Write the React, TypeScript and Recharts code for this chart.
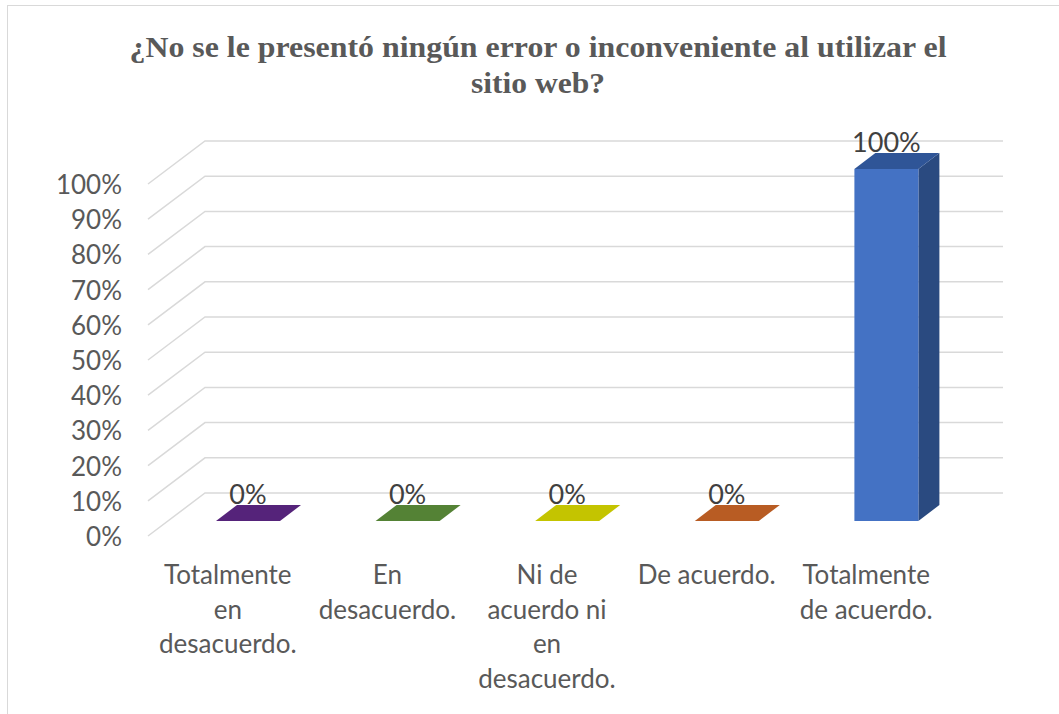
import React from 'react';
import { BarChart, Bar, XAxis, YAxis, CartesianGrid, LabelList } from 'recharts';

const categories: string[] = [
  'Totalmente en desacuerdo.',
  'En desacuerdo.',
  'Ni de acuerdo ni en desacuerdo.',
  'De acuerdo.',
  'Totalmente de acuerdo.',
];
const categoryLines: string[][] = [
  ['Totalmente', 'en', 'desacuerdo.'],
  ['En', 'desacuerdo.'],
  ['Ni de', 'acuerdo ni', 'en', 'desacuerdo.'],
  ['De acuerdo.'],
  ['Totalmente', 'de acuerdo.'],
];
const values: number[] = [0, 0, 0, 0, 1];
const yTicks: number[] = [0, 0.1, 0.2, 0.3, 0.4, 0.5, 0.6, 0.7, 0.8, 0.9, 1];
const titleLines: string[] = [
  '¿No se le presentó ningún error o inconveniente al utilizar el',
  'sitio web?',
];
const titleWidths: number[] = [817, 134];

const frontColors = ['#7030A0', '#70AD47', '#FFFF00', '#ED7D31', '#4472C4'];
const topColors = ['#55237A', '#548235', '#C4C400', '#B85C23', '#2F5597'];
const sideColors = ['#4A1E6B', '#4A722E', '#A8A800', '#A0501E', '#2A4A80'];

const data = categories.map((c, i) => ({ name: c, value: values[i], idx: i }));

const DX = 21;
const DY = -16;
const FONT = 'Lato, "Noto Sans", sans-serif';

const Bar3D = (props: any) => {
  const { x, y, width, height, payload } = props;
  const i = payload.idx;
  const h = Math.max(0, height || 0);
  const top = `M${x},${y} L${x + width},${y} L${x + width + DX},${y + DY} L${x + DX},${y + DY} Z`;
  const side = `M${x + width},${y} L${x + width + DX},${y + DY} L${x + width + DX},${y + h + DY} L${x + width},${y + h} Z`;
  return (
    <g>
      {h > 0 && <path d={side} fill={sideColors[i]} />}
      {h > 0 && <rect x={x} y={y} width={width} height={h} fill={frontColors[i]} />}
      <path d={top} fill={topColors[i]} />
    </g>
  );
};

const gridLine = (props: any) => {
  const { x1, x2, y1 } = props;
  const d = `M${x1 - 20},${y1 + 15} L${x1 + 37},${y1 - 28} L${x2 + 37},${y1 - 28}`;
  return <path key={`g-${y1}`} d={d} stroke="#D9D9D9" strokeWidth={1.5} fill="none" />;
};

const YTick = (props: any) => {
  const { y, payload } = props;
  return (
    <text x={122} y={y + 15} textAnchor="end" dominantBaseline="central" fontFamily={FONT} fontSize={26} fill="#595959">
      {`${Math.round(payload.value * 100)}%`}
    </text>
  );
};

const XTick = (props: any) => {
  const { x, payload, index } = props;
  const lines = categoryLines[index] || [payload.value];
  return (
    <g>
      {lines.map((l, k) => (
        <text key={k} x={x - 20} y={574 + k * 34.5} textAnchor="middle" dominantBaseline="central" fontFamily={FONT} fontSize={26} fill="#595959">
          {l}
        </text>
      ))}
    </g>
  );
};

const renderLabel = (props: any) => {
  const { x, y, width, value } = props;
  return (
    <text x={x + width / 2} y={y - 28} textAnchor="middle" dominantBaseline="central" fontFamily={FONT} fontSize={27} fill="#404040">
      {`${Math.round(value * 100)}%`}
    </text>
  );
};

export default function App() {
  return (
    <div style={{ position: 'absolute', left: 0, top: 0, width: 1059, height: 714, overflow: 'hidden', background: '#fff' }}>
      <div style={{ position: 'absolute', left: 7, top: 5, width: 1200, height: 900, border: '1.5px solid #D9D9D9', boxSizing: 'border-box' }} />
      <svg width={1059} height={120} style={{ position: 'absolute', left: 0, top: 0 }}>
        {titleLines.map((t, k) => (
          <text key={k} x={538} y={57 + k * 36} textAnchor="middle" textLength={titleWidths[k]} lengthAdjust="spacingAndGlyphs" fontFamily='"Liberation Serif", "Times New Roman", serif' fontWeight="bold" fontSize={30} fill="#595959">
            {t}
          </text>
        ))}
      </svg>
      <div style={{ position: 'absolute', left: 0, top: 0 }}>
        <BarChart width={1059} height={714} data={data} margin={{ top: 169, right: 93, bottom: 93, left: 0 }} barSize={64}>
          <CartesianGrid horizontal={gridLine} vertical={false} />
          <XAxis dataKey="name" height={100} axisLine={false} tickLine={false} tickSize={0} tickMargin={0} tick={XTick} interval={0} />
          <YAxis width={168} domain={[0, 1]} ticks={yTicks} axisLine={false} tickLine={false} tick={YTick} interval={0} />
          <Bar dataKey="value" shape={Bar3D} isAnimationActive={false}>
            <LabelList dataKey="value" content={renderLabel} />
          </Bar>
        </BarChart>
      </div>
    </div>
  );
}
